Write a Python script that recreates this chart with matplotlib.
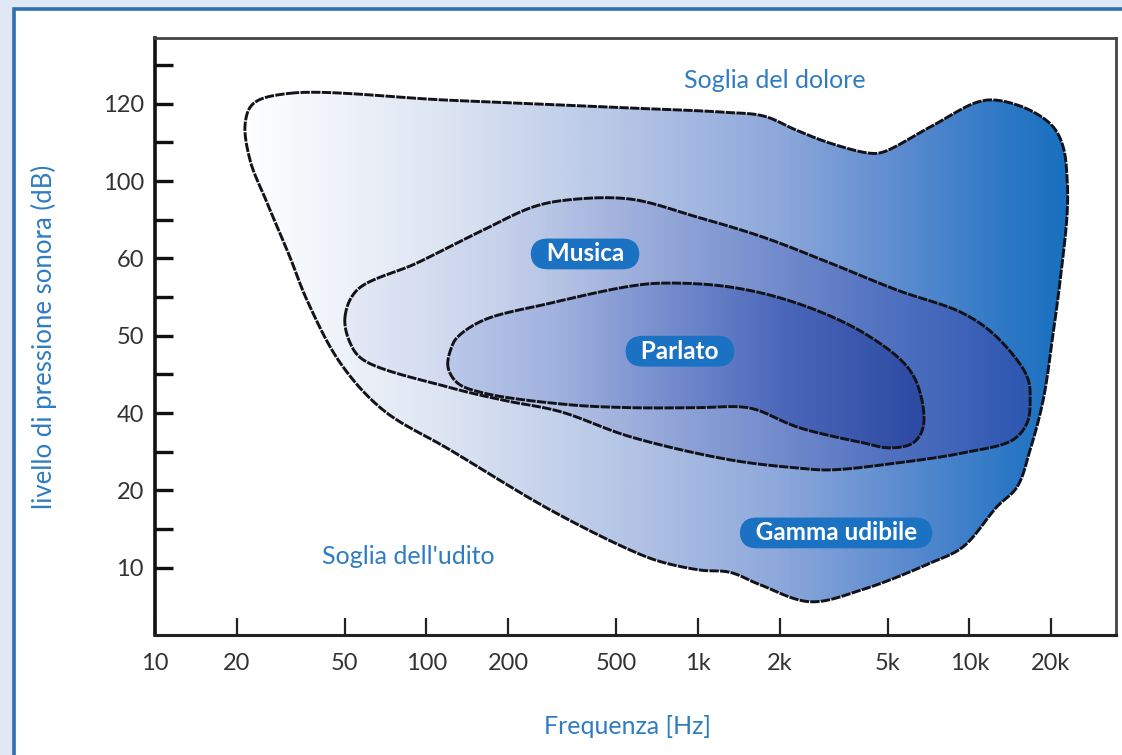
import numpy as np
import matplotlib
matplotlib.use("Agg")
import matplotlib.pyplot as plt
from matplotlib.path import Path
from matplotlib.patches import PathPatch, Rectangle
from matplotlib.image import AxesImage
from matplotlib.colors import LinearSegmentedColormap

# ---------------- data ----------------
level_ticks = [10, 20, 40, 50, 60, 100, 120]
level_minor = [15, 30, 45, 55, 80, 110, 130]
freq_ticks = [10, 20, 50, 100, 200, 500, 1000, 2000, 5000, 10000, 20000]
freq_labels = ['10', '20', '50', '100', '200', '500', '1k', '2k', '5k', '10k', '20k']

# Gamma udibile (outer region) outline: frequency [Hz], level [dB]
gamma_freq = [31.4, 122, 562, 1250, 1750, 2300, 3070, 4310, 4810, 7180, 10690, 12650,
              16750, 20370, 22170, 22930, 22930, 21610, 20370, 18710, 16750,
              15000, 12650, 9480, 7180, 4064, 2590, 1695, 1314, 1019, 726, 562,
              285, 122, 69.2, 48.1, 36.3, 31.4, 25.9, 22.4, 21.5, 23.0]
gamma_db = [122.7, 120.9, 118.9, 117.8, 116.8, 113.2, 109.8, 107.2, 107.5, 114.0, 120.4,
            120.9, 118.3, 114.0, 108.8, 100.3, 83.5, 57.2, 50.4, 41.7, 30.5,
            20.9, 17.9, 12.7, 10.6, 7.2, 5.6, 7.8, 9.4, 9.7, 10.8, 12.3,
            17.5, 30.5, 40.4, 46.5, 54.6, 60.7, 88.6, 105.4, 115.0, 120.0]

# Musica outline
musica_freq = [50.1, 55.5, 92.2, 162, 247, 330, 562, 993, 1738, 3070, 5420, 9480,
               12650, 16330, 16750, 16330, 14490, 9480, 5420, 3070, 2321, 1314,
               562, 310, 196, 122, 58.4, 52.3]
musica_db = [52.4, 55.9, 59.4, 74.7, 86.6, 90.2, 90.7, 81.4, 71.0, 59.4, 55.9, 52.9,
             49.8, 44.7, 41.7, 37.5, 33.1, 29.7, 27.1, 25.3, 25.8, 27.9,
             33.9, 40.2, 41.6, 43.3, 46.9, 49.1]

# Parlato outline
parlato_freq = [120, 124, 130, 162, 285, 562, 745, 1314, 2321, 4064, 5900, 6590,
                6760, 6210, 5110, 4064, 2321, 1653, 1432, 993, 562, 330, 162, 130]
parlato_db = [46.0, 48.6, 49.8, 52.0, 54.2, 56.4, 56.8, 56.3, 54.2, 50.4, 46.0, 42.6,
              36.4, 32.3, 31.0, 32.3, 36.4, 40.4, 40.8, 40.7, 40.7, 41.1, 42.6, 43.9]

# ---------------- scale helpers ----------------
LV = np.array(level_ticks, float)
IX = np.arange(len(LV), dtype=float)


def fwd(v):
    v = np.asarray(v, float)
    idx = np.interp(v, LV, IX)
    idx = np.where(v < LV[0], (v - LV[0]) / 10.0, idx)
    idx = np.where(v > LV[-1], IX[-1] + (v - LV[-1]) / 20.0, idx)
    return idx


def inv(i):
    i = np.asarray(i, float)
    v = np.interp(i, IX, LV)
    v = np.where(i < 0, LV[0] + i * 10.0, v)
    v = np.where(i > IX[-1], LV[-1] + (i - IX[-1]) * 20.0, v)
    return v


def smooth_closed(freq, db, n=16):
    # centripetal Catmull-Rom in (roughly isotropic) display-like space
    sx, sy = 271.4, 77.4
    P = np.column_stack([np.log10(freq) * sx, fwd(db) * sy])
    N = len(P)
    out = []
    for i in range(N):
        p0, p1, p2, p3 = P[(i - 1) % N], P[i], P[(i + 1) % N], P[(i + 2) % N]
        t0 = 0.0
        t1 = t0 + max(np.linalg.norm(p1 - p0), 1e-6) ** 0.5
        t2 = t1 + max(np.linalg.norm(p2 - p1), 1e-6) ** 0.5
        t3 = t2 + max(np.linalg.norm(p3 - p2), 1e-6) ** 0.5
        t = np.linspace(t1, t2, n, endpoint=False)[:, None]
        A1 = (t1 - t) / (t1 - t0) * p0 + (t - t0) / (t1 - t0) * p1
        A2 = (t2 - t) / (t2 - t1) * p1 + (t - t1) / (t2 - t1) * p2
        A3 = (t3 - t) / (t3 - t2) * p2 + (t - t2) / (t3 - t2) * p3
        B1 = (t2 - t) / (t2 - t0) * A1 + (t - t0) / (t2 - t0) * A2
        B2 = (t3 - t) / (t3 - t1) * A2 + (t - t1) / (t3 - t1) * A3
        C = (t2 - t) / (t2 - t1) * B1 + (t - t1) / (t2 - t1) * B2
        out.append(C)
    S = np.vstack(out + [P[:1]])
    return np.column_stack([10 ** (S[:, 0] / sx), inv(S[:, 1] / sy)])


# ---------------- figure ----------------
plt.rcParams['font.family'] = ['Lato', 'DejaVu Sans']

fig = plt.figure(figsize=(11.22, 7.55), dpi=100)
fig.patch.set_facecolor('#dfe8f4')
fig.add_artist(Rectangle((14 / 1122, -0.05), 1.1, 1 - 9 / 755 + 0.05,
                         transform=fig.transFigure, facecolor='white',
                         edgecolor='#2f70ae', linewidth=2.6, zorder=-10))

ax = fig.add_axes([155 / 1122, 1 - 635 / 755, (1116 - 155) / 1122, (635 - 38) / 755])
ax.set_facecolor('white')
ax.set_xscale('log')
ax.set_yscale('function', functions=(fwd, inv))
ax.set_xlim(10, 34700)
ax.set_ylim(1.3, 137)

shapes = [
    (gamma_freq, gamma_db,
     [(0.0, '#ffffff'), (0.09, '#ffffff'), (0.30, '#dde5f3'), (0.50, '#b2c3e5'),
      (0.66, '#8aa6da'), (0.78, '#5b8bcf'), (0.88, '#3079c6'), (0.95, '#1770bf'), (1.0, '#1770bf')]),
    (musica_freq, musica_db,
     [(0.0, '#e8edf6'), (0.20, '#e4e9f5'), (0.36, '#c6d1eb'), (0.55, '#8ea2d6'),
      (0.75, '#5574c2'), (0.90, '#2f58b1'), (1.0, '#2c55b0')]),
    (parlato_freq, parlato_db,
     [(0.0, '#c4d0eb'), (0.30, '#bccaea'), (0.42, '#9fb1de'), (0.52, '#7a91cf'),
      (0.66, '#4966b9'), (0.80, '#2d4aa3'), (1.0, '#2a45a0')]),
]

z = 2
for fr, db, stops in shapes:
    verts = smooth_closed(fr, db)
    path = Path(verts, closed=True)
    cmap = LinearSegmentedColormap.from_list('g', stops)
    grad = np.linspace(0, 1, 512)[None, :]
    im = AxesImage(ax, cmap=cmap, extent=(0, 1, 0, 1), transform=ax.transAxes,
                   interpolation='bilinear', origin='lower')
    im.set_data(grad)
    im.set_zorder(z)
    ax.add_image(im)
    outline = PathPatch(path, transform=ax.transData, facecolor='none',
                        edgecolor='#121218', linewidth=2.1, linestyle=(0, (3.2, 0.45)),
                        joinstyle='round', zorder=z + 0.5)
    ax.add_patch(outline)
    im.set_clip_path(outline)
    z += 1

# labels in boxes
box = dict(boxstyle='round,pad=0.16,rounding_size=0.7', facecolor='#1b72c2', edgecolor='none')
lab_kw = dict(color='white', fontsize=17.5, fontweight='bold', ha='center', va='center',
              bbox=box, zorder=10)
ax.text(384, 62.3, '  Musica  ', **lab_kw)
ax.text(859, 48.0, '  Parlato  ', **lab_kw)
ax.text(3230, 14.5, '  Gamma udibile  ', **lab_kw)

ax.text(1923, 126.1, 'Soglia del dolore', color='#2f7cc1', fontsize=18,
        ha='center', va='center', zorder=10)
ax.text(85.5, 11.4, "Soglia dell'udito", color='#2f7cc1', fontsize=18,
        ha='center', va='center', zorder=10)

# ticks
ax.set_xticks(freq_ticks)
ax.set_xticklabels(freq_labels)
ax.xaxis.set_minor_locator(matplotlib.ticker.NullLocator())
ax.set_yticks(level_ticks)
ax.set_yticklabels([str(v) for v in level_ticks])
ax.set_yticks(level_minor, minor=True)
ax.yaxis.set_minor_formatter(matplotlib.ticker.NullFormatter())
ax.tick_params(axis='x', which='major', direction='in', length=12, width=1.6,
               pad=13, labelsize=17, colors='#222222')
ax.tick_params(axis='y', which='both', direction='in', length=13, width=2.4,
               pad=8, labelsize=17, colors='#111111')
for lab in ax.get_xticklabels() + ax.get_yticklabels():
    lab.set_color('#333333')

ax.spines['left'].set_linewidth(2.6)
ax.spines['bottom'].set_linewidth(2.2)
ax.spines['left'].set_color('#111111')
ax.spines['bottom'].set_color('#222222')
ax.spines['top'].set_linewidth(2.0)
ax.spines['right'].set_linewidth(2.0)
ax.spines['top'].set_color('#444444')
ax.spines['right'].set_color('#444444')

fig.text(628 / 1122, 1 - 726 / 755, 'Frequenza [Hz]', color='#2f7cc1', fontsize=18,
         ha='center', va='center')
fig.text(44 / 1122, 1 - 337 / 755, 'livello di pressione sonora (dB)', color='#2f7cc1',
         fontsize=18.5, ha='center', va='center', rotation=90)

fig.savefig('out.png', dpi=100, facecolor=fig.get_facecolor())
